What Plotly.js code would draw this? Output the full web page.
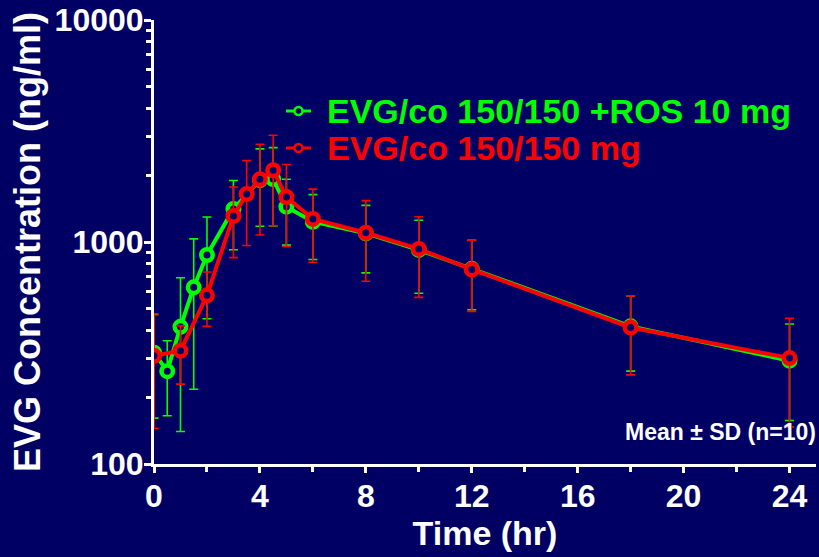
<!DOCTYPE html>
<html>
<head>
<meta charset="utf-8">
<script src="https://cdn.plot.ly/plotly-3.0.1.min.js"></script>
<style>
  html, body { margin: 0; padding: 0; background: #000064; }
  #chart { width: 819px; height: 557px; }
</style>
</head>
<body>
<div id="chart"></div>
<script>
// ---- Data ----
const timeRos = [0, 0.5, 1, 1.5, 2, 3, 4, 4.5, 5, 6, 8, 10, 12, 18, 24];
const meanRos = [317, 262, 415, 625, 874, 1408, 1902, 1922, 1442, 1234, 1094, 921, 757, 417, 292];
const sdRos   = [156, 97, 275, 408, 423, 485, 725, 740, 474, 400, 368, 333, 262, 155, 135];

const timeEvg = [0, 1, 2, 3, 3.5, 4, 4.5, 5, 6, 8, 10, 12, 18, 24];
const meanEvg = [307, 324, 575, 1310, 1645, 1916, 2104, 1595, 1270, 1101, 931, 752, 412, 300];
const sdEvg   = [162, 95, 158, 460, 680, 840, 920, 640, 460, 435, 368, 265, 160, 153];

const seriesNames = ["EVG/co 150/150 +ROS 10 mg", "EVG/co 150/150 mg"];
const xTickVals = [0, 4, 8, 12, 16, 20, 24];
const yTickVals = [100, 1000, 10000];
const yTickText = ["100", "1000", "10000"];
const yMinorVals = [200,300,400,500,600,700,800,900,2000,3000,4000,5000,6000,7000,8000,9000];

// ---- Style ----
const BG = "#000064";
const GREEN = "#00FF00";
const RED = "#FF0000";
const FONT = "Liberation Sans, Arial, sans-serif";

function trace(x, y, sd, color, name) {
  return {
    x: x, y: y, name: name, type: "scatter", mode: "lines+markers",
    line: { color: color, width: 4 },
    marker: { symbol: "circle", size: 11.5, color: BG, line: { color: color, width: 4.5 } },
    error_y: { type: "data", array: sd, visible: true, color: color, thickness: 1.6, width: 4.5 },
    showlegend: false
  };
}

const data = [
  trace(timeRos, meanRos, sdRos, GREEN, seriesNames[0]),
  trace(timeEvg, meanEvg, sdEvg, RED, seriesNames[1])
];

// plot area: x 154..816 px, y 20..464 px
const L = 154, R = 816, T = 20, B = 464;
const px = v => (v - L) / (R - L);
const py = v => (B - v) / (B - T);

function legendShapes(yPix, color) {
  return [
    { type: "line", xref: "paper", yref: "paper", x0: px(286), x1: px(311), y0: py(yPix), y1: py(yPix),
      line: { color: color, width: 3 } },
    { type: "circle", xref: "paper", yref: "paper", xsizemode: "pixel", ysizemode: "pixel",
      xanchor: px(298.5), yanchor: py(yPix), x0: -4, x1: 4, y0: -4, y1: 4,
      fillcolor: BG, line: { color: color, width: 2.5 } }
  ];
}

const layout = {
  width: 819, height: 557,
  paper_bgcolor: BG, plot_bgcolor: BG,
  margin: { l: L, r: 819 - R, t: T, b: 557 - B },
  showlegend: false,
  font: { family: FONT, color: "#FFFFFF", weight: "bold" },
  xaxis: {
    range: [0, 25], showgrid: false, zeroline: false,
    showline: true, linecolor: "#FFFFFF", linewidth: 3,
    ticks: "outside", tickcolor: "#FFFFFF", tickwidth: 3, ticklen: 6,
    tickvals: xTickVals, ticklabelstandoff: -4,
    tickfont: { family: FONT, size: 32, color: "#FFFFFF", weight: "bold" },
    minor: { dtick: 2, tick0: 0, ticks: "outside", ticklen: 5, tickwidth: 3, tickcolor: "#FFFFFF", showgrid: false },
    title: { text: "Time (hr)", font: { family: FONT, size: 34, color: "#FFFFFF", weight: "bold" }, standoff: 8 }
  },
  yaxis: {
    type: "log", range: [2, 4], showgrid: false, zeroline: false,
    showline: true, linecolor: "#FFFFFF", linewidth: 3,
    ticks: "outside", tickcolor: "#FFFFFF", tickwidth: 3, ticklen: 7,
    tickvals: yTickVals, ticktext: yTickText, ticklabelstandoff: -6,
    tickfont: { family: FONT, size: 32, color: "#FFFFFF", weight: "bold" },
    minor: { tickvals: yMinorVals, ticks: "outside", ticklen: 5, tickwidth: 3, tickcolor: "#FFFFFF", showgrid: false },
    title: { text: "EVG Concentration (ng/ml)", font: { family: FONT, size: 36, color: "#FFFFFF", weight: "bold" }, standoff: 4 }
  },
  shapes: [].concat(legendShapes(111, GREEN), legendShapes(148, RED)),
  annotations: [
    { xref: "paper", yref: "paper", x: px(325), y: py(111), xanchor: "left", yanchor: "middle",
      text: seriesNames[0], showarrow: false,
      font: { family: FONT, size: 34, color: GREEN, weight: "bold" } },
    { xref: "paper", yref: "paper", x: px(325), y: py(148), xanchor: "left", yanchor: "middle",
      text: seriesNames[1], showarrow: false,
      font: { family: FONT, size: 34, color: RED, weight: "bold" } },
    { xref: "paper", yref: "paper", x: px(818), y: py(447), xanchor: "right", yanchor: "bottom",
      text: "Mean ± SD (n=10)", showarrow: false,
      font: { family: FONT, size: 23, color: "#FFFFFF", weight: "bold" } }
  ]
};

Plotly.newPlot("chart", data, layout, { displayModeBar: false, staticPlot: true });
</script>
</body>
</html>
